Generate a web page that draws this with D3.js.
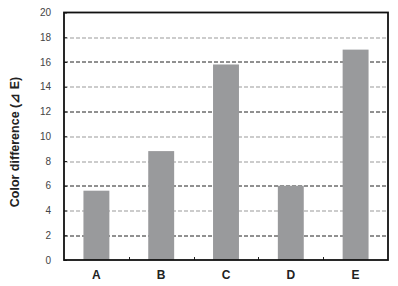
<!DOCTYPE html>
<html>
<head>
<meta charset="utf-8">
<script src="https://cdn.jsdelivr.net/npm/d3@7"></script>
<style>
  body { margin: 0; background: #fff; }
  svg { display: block; font-family: "Liberation Sans", Arial, sans-serif; }
</style>
</head>
<body>
<div id="chart"></div>
<script>
var categories = ["A", "B", "C", "D", "E"];
var values = [5.6, 8.8, 15.8, 6.0, 17.0];
var yTicks = [0, 2, 4, 6, 8, 10, 12, 14, 16, 18, 20];
var darkLines = [2, 6, 12, 16];

var margin = {top: 12.5, right: 10, bottom: 26, left: 64}
    , width = 398 - margin.left - margin.right
    , height = 286 - margin.top - margin.bottom;

var svg = d3.select("#chart").append("svg")
    .attr("width", 398)
    .attr("height", 286);

var main = svg.append("g")
    .attr("transform", "translate(" + margin.left + "," + margin.top + ")");

var x = d3.scaleBand()
    .domain(categories)
    .range([0, width])
    .paddingInner(0.6)
    .paddingOuter(0.3);

var y = d3.scaleLinear()
    .domain([0, 20])
    .range([height, 0]);

// grid lines
main.selectAll(".grid")
    .data(yTicks.filter(function (d) { return d > 0 && d < 20; }))
    .enter().append("line")
    .attr("x1", 0)
    .attr("x2", width)
    .attr("y1", function (d) { return Math.round(y(d)) + 0.5; })
    .attr("y2", function (d) { return Math.round(y(d)) + 0.5; })
    .attr("stroke", function (d) { return darkLines.indexOf(d) >= 0 ? "#222" : "#999"; })
    .attr("stroke-width", 1)
    .attr("stroke-dasharray", "4,2");

// bars
main.selectAll(".bar")
    .data(values)
    .enter().append("rect")
    .attr("x", function (d, i) { return x(categories[i]); })
    .attr("y", function (d) { return y(d); })
    .attr("width", x.bandwidth())
    .attr("height", function (d) { return height - y(d); })
    .attr("fill", "#999a9c");

// y axis labels and small ticks
var yAxis = main.append("g")
    .call(d3.axisLeft(y).tickValues(yTicks).tickSize(-3).tickPadding(13));
yAxis.select(".domain").remove();
yAxis.selectAll("line").attr("stroke", "#222");
yAxis.selectAll("text")
    .attr("fill", "#444")
    .style("font-size", "10px");

// x axis: ticks between categories pointing inward
var step = x.step();
main.selectAll(".xtick")
    .data(categories.slice(1))
    .enter().append("line")
    .attr("x1", function (d) { return Math.round(x(d) - (step - x.bandwidth()) / 2) + 0.5; })
    .attr("x2", function (d) { return Math.round(x(d) - (step - x.bandwidth()) / 2) + 0.5; })
    .attr("y1", height)
    .attr("y2", height - 3)
    .attr("stroke", "#222");

main.selectAll(".xlabel")
    .data(categories)
    .enter().append("text")
    .attr("x", function (d) { return x(d) + x.bandwidth() / 2; })
    .attr("y", height + 19)
    .attr("text-anchor", "middle")
    .style("font-size", "12px")
    .style("font-weight", "bold")
    .attr("fill", "#222")
    .text(function (d) { return d; });

// frame
main.append("rect")
    .attr("x", 0)
    .attr("y", 0)
    .attr("width", width)
    .attr("height", height)
    .attr("fill", "none")
    .attr("stroke", "#111")
    .attr("stroke-width", 1.8);

// y title
svg.append("text")
    .attr("transform", "translate(19,142) rotate(-90)")
    .attr("text-anchor", "middle")
    .style("font-size", "12.5px")
    .style("font-weight", "bold")
    .attr("fill", "#222")
    .text("Color difference (\u22BF E)");
</script>
</body>
</html>
